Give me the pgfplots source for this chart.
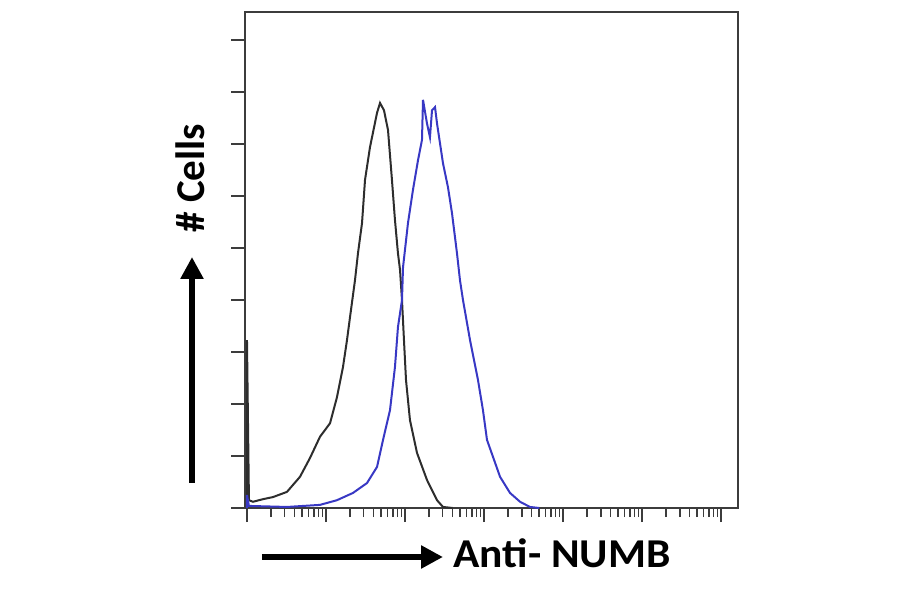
\documentclass[border=0pt]{standalone}
\usepackage{pgfplots}
\pgfplotsset{compat=1.18}
\usepackage{fontspec}
\setmainfont{Carlito}
\usetikzlibrary{arrows.meta}
\definecolor{histblue}{RGB}{56,56,196}
\definecolor{histblack}{RGB}{45,45,45}
\definecolor{axgray}{RGB}{60,60,60}
\begin{document}
\begin{tikzpicture}
\useasboundingbox (-122.5pt,-43pt) rectangle (327.5pt,254pt);
\begin{axis}[
  at={(0pt,0pt)}, anchor=south west,
  scale only axis, width=246.5pt, height=248pt,
  xmode=log, xmin=0.944, xmax=1.64e6,
  ymin=0, ymax=9.54,
  xtick={1,10,100,1000,10000,100000,1000000},
  ytick={0,1,2,3,4,5,6,7,8,9},
  xticklabels={}, yticklabels={},
  tick align=outside, tick pos=left,
  major tick length=7pt, minor tick length=4.5pt,
  axis line style={axgray, line width=0.8pt},
  every tick/.style={axgray, line width=0.8pt},
  clip=false,
]
\addplot[histblack, line width=1pt] coordinates {
(1,0) (1,3.23) (1.059,0.15) (1.191,0.12) (1.596,0.17) (2.133,0.21) (3.206,0.31)
(4.688,0.60) (6.266,0.96) (8.395,1.37) (11.25,1.63) (13.77,2.13) (16.41,2.71)
(18.45,3.23) (20.14,3.67) (23.28,4.38) (25.41,4.90) (28.58,5.48) (31.19,6.31)
(36.06,6.94) (44.26,7.60) (48.31,7.79) (54.20,7.65) (60.95,7.27) (68.39,6.31)
(74.65,5.54) (81.47,4.90) (86.50,4.58) (91.62,4.00) (97.05,3.23) (103.0,2.46)
(115.6,1.69) (141.9,1.06) (189.7,0.54) (254.1,0.15) (302.7,0.02) (400,0)
};
\addplot[histblue, line width=1pt] coordinates {
(1,0) (1,0.25) (1.059,0.04) (3.206,0.02) (8.395,0.06) (13.77,0.15) (21.98,0.29)
(33.04,0.48) (44.26,0.79) (52.72,1.31) (64.57,1.88) (74.65,2.71) (81.47,3.48)
(91.62,4.00) (94.41,4.63) (109.1,5.48) (126.2,6.12) (146.2,6.69) (164.1,7.08)
(169.0,7.85) (189.7,7.40) (207.0,7.13) (219.8,7.65) (239.9,7.71) (254.1,7.40)
(302.7,6.63) (349.9,6.17) (393.6,5.67) (455.0,4.90) (496.6,4.38) (542.0,4.00)
(665.3,3.23) (839.5,2.46) (970.5,1.88) (1091,1.31) (1596,0.60) (2133,0.29)
(2858,0.12) (3819,0.02) (5000,0)
};
\end{axis}
\draw[line width=3pt, -{Triangle[length=11pt,width=11pt]}] (8.5pt,-24.5pt) -- (99pt,-24.5pt);
\node[anchor=base west, inner sep=0pt, xscale=1.06, font=\fontsize{20.5}{24}\selectfont\bfseries] at (104pt,-30pt) {Anti- NUMB};
\draw[line width=3pt, -{Triangle[length=11pt,width=11pt]}] (-26.5pt,12.5pt) -- (-26.5pt,125.5pt);
\node[anchor=base west, rotate=90, inner sep=0pt, font=\fontsize{20.5}{24}\selectfont\bfseries] at (-20pt,137.5pt) {\# Cells};
\end{tikzpicture}
\end{document}
